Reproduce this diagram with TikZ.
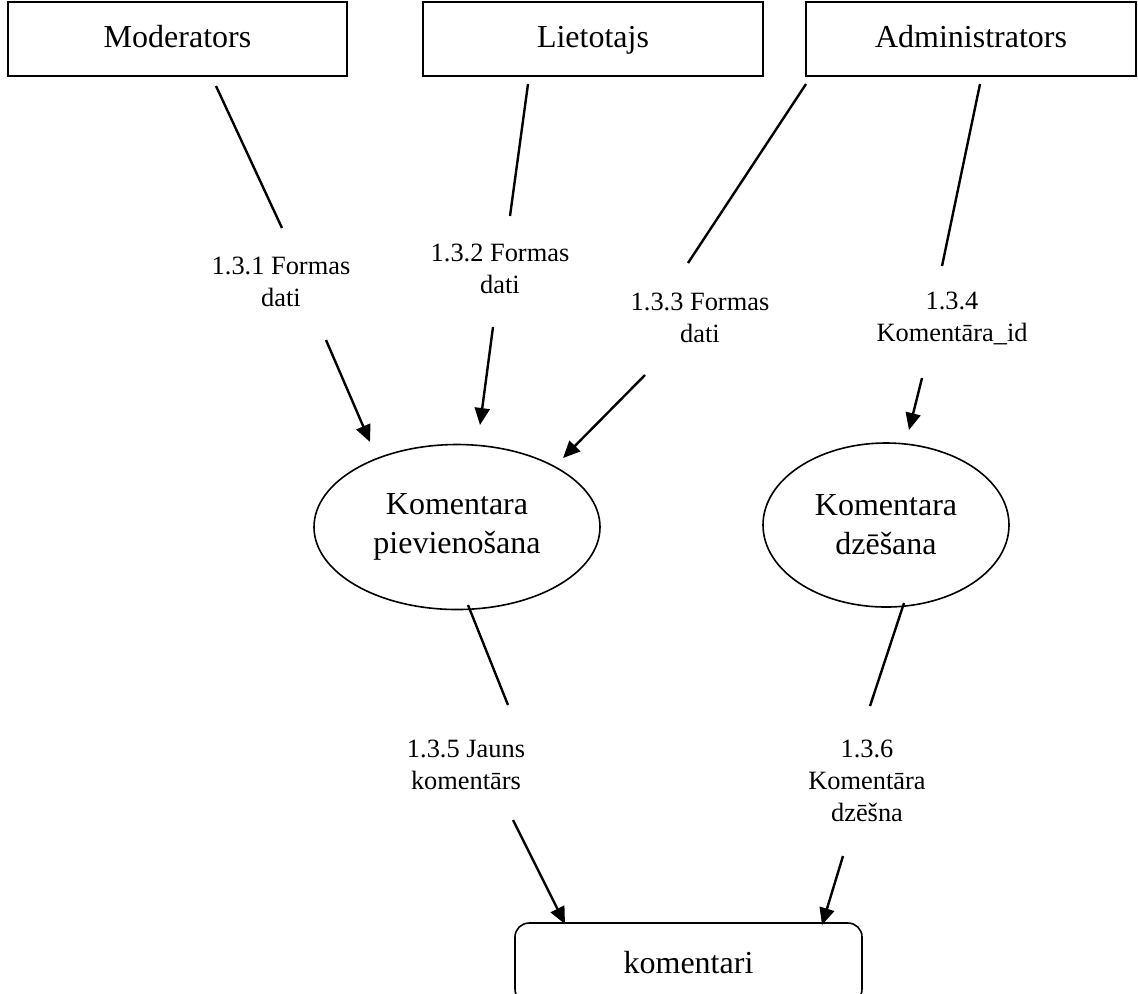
\documentclass[tikz,border=0pt]{standalone}
\usepackage{fontspec}
\setmainfont{Liberation Serif}
\usetikzlibrary{shapes.geometric,arrows.meta}
\begin{document}
\begin{tikzpicture}[x=0.5pt,y=-0.5pt,
  ent/.style={draw,line width=0.8pt,inner sep=0pt,text height=0.8em,text depth=0pt,font=\fontsize{16}{19}\selectfont},
  proc/.style={draw,ellipse,line width=0.8pt,inner sep=0pt,align=center,font=\fontsize{16}{19.5}\selectfont},
  store/.style={draw,rounded corners=7pt,line width=0.8pt,inner sep=0pt,font=\fontsize{16}{19}\selectfont},
  lbl/.style={align=center,inner sep=0pt,font=\fontsize{13.2}{16}\selectfont},
  flow/.style={line width=1.2pt},
  flowarr/.style={line width=1.2pt,-{Triangle[length=8.5pt,width=7.5pt]}}]
\clip (0,0) rectangle (1138,993);
% external entities
\node[ent,minimum width=169.5pt,minimum height=37pt] (mod) at (177.5,39) {Moderators};
\node[ent,minimum width=170pt,minimum height=37pt] (liet) at (593,39) {Lietotajs};
\node[ent,minimum width=165pt,minimum height=37pt] (adm) at (971,39) {Administrators};
% processes
\node[proc,minimum width=143pt,minimum height=82.5pt] (p1) at (457,527) {Komentara\\pievienošana};
\node[proc,minimum width=123pt,minimum height=82pt] (p2) at (886,525) {Komentara\\dzēšana};
% data store
\node[store,minimum width=173.5pt,minimum height=40pt] (ds) at (688.5,963) {komentari};
% labels
\node[lbl] (l1) at (281,282) {1.3.1 Formas\\dati};
\node[lbl] (l2) at (500,269) {1.3.2 Formas\\dati};
\node[lbl] (l3) at (700,318) {1.3.3 Formas\\dati};
\node[lbl] (l4) at (952,318) {1.3.4\\Komentāra\_id};
\node[lbl] (l5) at (466,765) {1.3.5 Jauns\\komentārs};
\node[lbl] (l6) at (867,781) {1.3.6\\Komentāra\\dzēšna};
% connector end points
\coordinate (a1) at (216,86);  \coordinate (a2) at (282,228);
\coordinate (a3) at (326,340); \coordinate (a4) at (370,442);
\coordinate (b1) at (528,84);  \coordinate (b2) at (510,216);
\coordinate (b3) at (493,327); \coordinate (b4) at (480,425);
\coordinate (c1) at (806,84);  \coordinate (c2) at (688,263);
\coordinate (c3) at (645,375); \coordinate (c4) at (563,458);
\coordinate (d1) at (980,84);  \coordinate (d2) at (942,266);
\coordinate (d3) at (922,378); \coordinate (d4) at (909,430);
\coordinate (e1) at (468,605); \coordinate (e2) at (508,705);
\coordinate (e3) at (513,820); \coordinate (e4) at (565,924);
\coordinate (f1) at (904,603); \coordinate (f2) at (870,706);
\coordinate (f3) at (843,856); \coordinate (f4) at (822,925);
% flows
\draw[flow] (a1) -- (a2);  \draw[flowarr] (a3) -- (a4);
\draw[flow] (b1) -- (b2);  \draw[flowarr] (b3) -- (b4);
\draw[flow] (c1) -- (c2);  \draw[flowarr] (c3) -- (c4);
\draw[flow] (d1) -- (d2);  \draw[flowarr] (d3) -- (d4);
\draw[flow] (e1) -- (e2);  \draw[flowarr] (e3) -- (e4);
\draw[flow] (f1) -- (f2);  \draw[flowarr] (f3) -- (f4);
\end{tikzpicture}
\end{document}
